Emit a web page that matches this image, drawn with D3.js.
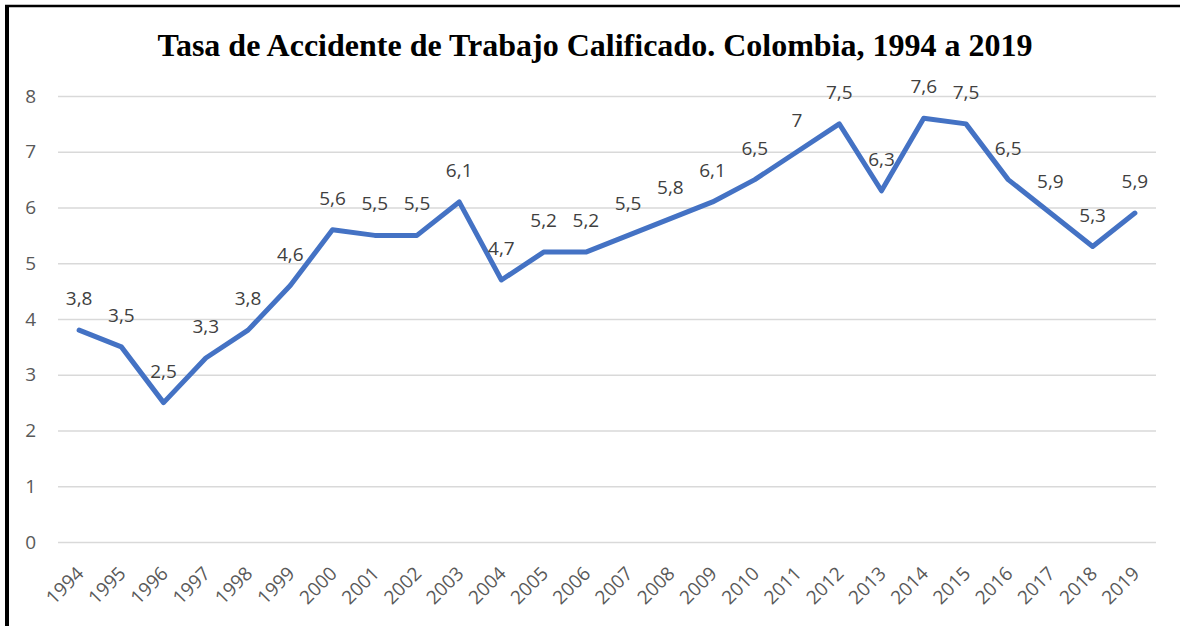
<!DOCTYPE html>
<html>
<head>
<meta charset="utf-8">
<script src="https://cdn.jsdelivr.net/npm/d3@7"></script>
<style>
  html, body { margin: 0; padding: 0; background: #fff; }
  svg { display: block; }
</style>
</head>
<body>
<svg id="chart" width="1180" height="626"></svg>
<script>
const title = "Tasa de Accidente de Trabajo Calificado. Colombia, 1994 a 2019";
const years = ["1994","1995","1996","1997","1998","1999","2000","2001","2002","2003","2004","2005","2006","2007","2008","2009","2010","2011","2012","2013","2014","2015","2016","2017","2018","2019"];
const rates = [3.8,3.5,2.5,3.3,3.8,4.6,5.6,5.5,5.5,6.1,4.7,5.2,5.2,5.5,5.8,6.1,6.5,7,7.5,6.3,7.6,7.5,6.5,5.9,5.3,5.9];
const yTicks = [0,1,2,3,4,5,6,7,8];

const W = 1180, H = 626;
const plot = {left: 58, right: 1156, top: 96, bottom: 542};
const svg = d3.select("#chart");
const textFont = "'Open Sans', 'Noto Sans', sans-serif";

svg.append("rect").attr("width", W).attr("height", H).attr("fill", "#fff");

// frame (left and top borders)
svg.append("line").attr("x1", 7).attr("x2", 7).attr("y1", 5).attr("y2", H)
  .attr("stroke", "#000").attr("stroke-width", 4);
svg.append("line").attr("x1", 5).attr("x2", W).attr("y1", 6).attr("y2", 6)
  .attr("stroke", "#000").attr("stroke-width", 2.5);

const x = d3.scaleBand().domain(years).range([plot.left, plot.right]).padding(0);
const y = d3.scaleLinear().domain([0, 8]).range([plot.bottom, plot.top]);
const cx = d => x(d) + x.bandwidth() / 2;

// title
svg.append("text")
  .attr("x", 595).attr("y", 56)
  .attr("text-anchor", "middle")
  .attr("font-family", "'Liberation Serif', 'Times New Roman', serif")
  .attr("font-weight", "bold")
  .attr("font-size", 32)
  .attr("fill", "#000")
  .text(title);

// gridlines + y axis
const yAxis = d3.axisLeft(y).tickValues(yTicks)
  .tickSize(-(plot.right - plot.left)).tickPadding(22)
  .tickFormat(d3.format("d"));
const gy = svg.append("g").attr("transform", `translate(${plot.left},0)`).call(yAxis);
gy.select(".domain").remove();
gy.selectAll(".tick line").attr("stroke", "#d9d9d9").attr("stroke-width", 1.5);
gy.selectAll(".tick text").attr("font-family", textFont).attr("font-size", 19)
  .attr("fill", "#595959");

// x axis labels
const xAxis = d3.axisBottom(x).tickSize(0).tickPadding(0);
const gx = svg.append("g").attr("transform", `translate(0,${plot.bottom})`).call(xAxis);
gx.select(".domain").remove();
gx.selectAll(".tick text")
  .attr("font-family", textFont).attr("font-size", 19).attr("fill", "#595959")
  .attr("text-anchor", "end")
  .attr("dy", "0.35em")
  .attr("transform", "translate(1,28) rotate(-45)");

// line
const data = years.map((yr, i) => ({year: yr, value: rates[i]}));
const line = d3.line().x(d => cx(d.year)).y(d => y(d.value));
svg.append("path").datum(data)
  .attr("d", line)
  .attr("fill", "none")
  .attr("stroke", "#4472C4")
  .attr("stroke-width", 5)
  .attr("stroke-linejoin", "round")
  .attr("stroke-linecap", "round");

// data labels
const fmt = v => String(v).replace(".", ",");
svg.append("g").selectAll("text").data(data).join("text")
  .attr("x", d => cx(d.year))
  .attr("y", d => y(d.value) - 25)
  .attr("text-anchor", "middle")
  .attr("font-family", textFont).attr("font-size", 19)
  .attr("fill", "#404040")
  .text(d => fmt(d.value));
</script>
</body>
</html>
